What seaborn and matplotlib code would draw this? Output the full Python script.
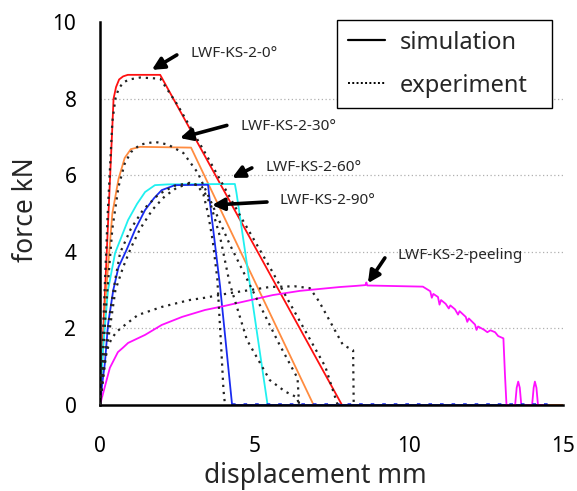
import numpy as np
import pandas as pd
import matplotlib
matplotlib.use("Agg")
import matplotlib.pyplot as plt
from matplotlib.lines import Line2D
from matplotlib.ticker import MultipleLocator
import seaborn as sns

sns.set_style("white")
plt.rcParams['font.family'] = ['Noto Sans', 'DejaVu Sans']

# simulation curves (displacement mm, force kN)
red_x = [0, 0.44, 0.52, 0.62, 0.75, 0.9, 1.95, 7.84, 15]
red_y = [0, 8.0, 8.3, 8.5, 8.58, 8.62, 8.62, 0, 0]

orange_x = [0, 0.2, 0.4, 0.6, 0.8, 1.0, 1.3, 2.95, 6.92, 15]
orange_y = [0, 3.0, 5.0, 5.9, 6.45, 6.68, 6.74, 6.72, 0, 0]

cyan_x = [0, 0.1, 0.26, 0.49, 0.91, 1.2, 1.46, 1.78, 2.2, 4.37, 4.42, 5.43, 14.5]
cyan_y = [0, 1.5, 3.0, 3.97, 4.83, 5.25, 5.56, 5.74, 5.76, 5.77, 5.55, 0, 0]

blue_x = [0, 0.08, 0.16, 0.26, 0.43, 0.6, 0.86, 1.15, 1.46, 1.75, 2.0, 2.43, 3.5, 3.56, 3.89, 4.28, 14.5]
blue_y = [0, 0.6, 1.1, 2.1, 3.0, 3.6, 4.05, 4.6, 5.09, 5.4, 5.61, 5.74, 5.75, 5.3, 3.1, 0, 0]

mag_x = [0, 0.32, 0.58, 0.75, 0.91, 1.46, 2.0, 2.66, 3.4, 4.0, 5.6, 6.48, 7.77, 8.3, 8.6, 8.63, 8.66, 10.46,
         10.6, 10.7, 10.75, 10.8, 10.95, 11.0, 11.05, 11.2, 11.3, 11.35, 11.5, 11.6, 11.65, 11.85, 11.9, 11.95,
         12.15, 12.2, 12.25, 12.45, 12.55, 12.65, 12.8, 12.9, 13.07, 13.12, 13.17, 13.45, 13.5, 13.55, 13.6,
         13.65, 14.0, 14.05, 14.09, 14.14, 14.19, 14.5]
mag_y = [0, 0.97, 1.38, 1.5, 1.62, 1.83, 2.09, 2.3, 2.48, 2.58, 2.87, 2.98, 3.08, 3.11, 3.13, 3.2, 3.12, 3.09,
         3.02, 2.97, 2.8, 2.9, 2.82, 2.62, 2.74, 2.64, 2.52, 2.6, 2.5, 2.36, 2.45, 2.3, 2.17, 2.26,
         2.1, 1.96, 2.05, 1.96, 1.9, 1.95, 1.9, 1.8, 1.74, 0.8, 0, 0, 0.45, 0.61, 0.45,
         0, 0, 0.45, 0.61, 0.45, 0, 0]

# experiment curves
exp0_x = [0, 0.1, 0.25, 0.4, 0.5, 0.6, 0.75, 0.95, 1.3, 1.95, 2.5, 3.5, 4.5, 5.5, 6.5, 7.3, 7.7]
exp0_y = [0, 2.0, 5.0, 7.4, 8.0, 8.25, 8.42, 8.5, 8.55, 8.52, 7.85, 6.45, 5.0, 3.6, 2.15, 1.0, 0]

exp30_x = [0, 0.2, 0.4, 0.6, 0.8, 1.0, 1.3, 1.78, 2.2, 2.7, 3.17, 3.6, 4.2, 5.0, 5.8, 6.4, 6.45]
exp30_y = [0, 2.6, 4.6, 5.7, 6.3, 6.6, 6.8, 6.87, 6.8, 6.58, 6.06, 5.3, 4.2, 2.9, 1.6, 0.7, 0]

exp60_x = [0, 0.15, 0.3, 0.5, 0.65, 1.0, 1.4, 1.9, 2.4, 2.9, 3.3, 3.6, 3.89, 4.2, 4.76, 5.5, 6.0, 6.38, 6.45]
exp60_y = [0, 1.2, 2.3, 3.3, 3.97, 4.6, 5.1, 5.5, 5.72, 5.8, 5.7, 5.2, 4.39, 3.18, 1.7, 0.65, 0.35, 0.2, 0]

exp90_x = [0, 0.15, 0.3, 0.5, 0.75, 1.0, 1.3, 1.7, 2.1, 2.5, 2.9, 3.15, 3.35, 3.5, 3.65, 3.8, 3.92, 4.0, 4.05]
exp90_y = [0, 1.0, 1.9, 3.0, 3.6, 4.1, 4.6, 5.1, 5.45, 5.68, 5.78, 5.75, 5.5, 5.0, 4.3, 3.3, 1.6, 0.4, 0]

expp_x = [0, 0.05, 0.1, 0.2, 0.3, 0.39, 0.55, 0.81, 1.23, 2.0, 2.9, 3.4, 4.2, 5.5, 6.3, 6.8, 7.1, 7.55, 7.87, 8.2, 8.22]
expp_y = [0, 0.5, 0.9, 1.35, 1.6, 1.75, 1.92, 2.09, 2.35, 2.56, 2.74, 2.8, 2.92, 3.08, 3.1, 3.05, 2.7, 2.04, 1.57, 1.43, 0]

labels = ['LWF-KS-2-0°', 'LWF-KS-2-30°', 'LWF-KS-2-60°', 'LWF-KS-2-90°', 'LWF-KS-2-peeling']
label_pos = [(2.92, 9.19), (4.54, 7.26), (5.35, 6.19), (5.83, 5.35), (9.65, 3.89)]
arrow_tail = [(2.49, 9.14), (4.11, 7.3), (4.92, 6.19), (5.41, 5.3), (9.23, 3.84)]
arrow_tip = [(1.68, 8.75), (2.59, 6.97), (4.28, 5.93), (3.63, 5.22), (8.68, 3.18)]

fig = plt.figure(figsize=(5.77, 4.91), dpi=100)
ax = fig.add_axes([0.1733, 0.1752, 0.8024, 0.78])

# grid
for g in [2, 4, 6, 8]:
    ax.axhline(g, color='#b0b0b0', lw=0.9, ls=(0, (1, 2)), zorder=0)

dot = (0, (1, 2.2))
exps = [(exp0_x, exp0_y), (exp30_x, exp30_y), (exp60_x, exp60_y), (exp90_x, exp90_y), (expp_x, expp_y)]
for ex, ey in exps:
    sns.lineplot(x=ex, y=ey, ax=ax, color='#222222', lw=1.6, linestyle=dot, sort=False,
                 estimator=None, zorder=3)

sims = [(red_x, red_y, '#ff1010'), (orange_x, orange_y, '#ff8c40'), (cyan_x, cyan_y, '#20f0f0'),
        (blue_x, blue_y, '#1a2cf0'), (mag_x, mag_y, '#ff10ff')]
for sx, sy, c in sims:
    sns.lineplot(x=sx, y=sy, ax=ax, color=c, lw=1.3, sort=False, estimator=None, zorder=2)

# noisy blue dots along the zero line
sns.lineplot(x=blue_x[-2:], y=blue_y[-2:], ax=ax, color='#1a2cf0', lw=2.6,
             linestyle=(0, (1, 2.2)), sort=False, estimator=None, zorder=2)

for lab, lp, tl, tp in zip(labels, label_pos, arrow_tail, arrow_tip):
    ax.annotate('', xy=tp, xytext=tl,
                arrowprops=dict(arrowstyle='-|>', color='black', lw=2.6, mutation_scale=18,
                                shrinkA=0, shrinkB=0))
    ax.text(lp[0], lp[1], lab, fontsize=11, va='center', ha='left')

ax.set_xlim(0, 15)
ax.set_ylim(0, 10)
ax.xaxis.set_major_locator(MultipleLocator(5))
ax.xaxis.set_minor_locator(MultipleLocator(2.5))
ax.yaxis.set_major_locator(MultipleLocator(2))
ax.yaxis.set_minor_locator(MultipleLocator(1))
ax.tick_params(axis='both', which='both', direction='out', width=1.6, labelsize=15, colors='black')
ax.tick_params(axis='x', which='major', length=12, pad=10)
ax.tick_params(axis='x', which='minor', length=6)
ax.tick_params(axis='y', which='major', length=10, pad=7)
ax.tick_params(axis='y', which='minor', length=7)
for s in ['top', 'right']:
    ax.spines[s].set_visible(False)
for s in ['left', 'bottom']:
    ax.spines[s].set_linewidth(1.8)
    ax.spines[s].set_color('black')

ax.set_xlabel('displacement mm', fontsize=19)
ax.set_ylabel('force kN', fontsize=19)
ax.xaxis.set_label_coords(0.464, -0.15)
ax.yaxis.set_label_coords(-0.13, 0.509)

handles = [Line2D([0], [0], color='black', lw=1.6),
           Line2D([0], [0], color='black', lw=1.4, ls=(0, (1, 1.2)))]
leg = ax.legend(handles, ['simulation', 'experiment'], loc='upper left',
                bbox_to_anchor=(0.512, 0.778, 0.464, 0.227), mode='expand',
                fontsize=17, frameon=True, fancybox=False, edgecolor='black', framealpha=1,
                handlelength=1.6, borderpad=0.45, labelspacing=0.8, handletextpad=0.6, borderaxespad=0)
leg.get_frame().set_linewidth(1.0)

fig.savefig('out.png', dpi=100)
